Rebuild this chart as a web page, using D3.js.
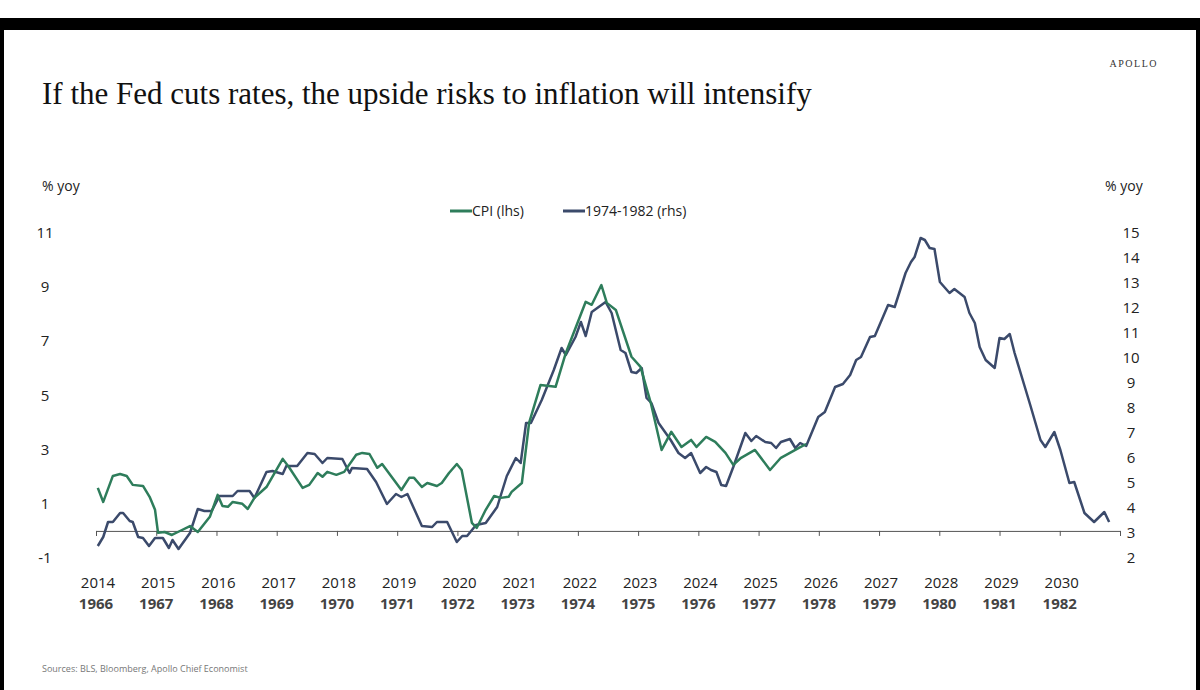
<!DOCTYPE html>
<html>
<head>
<meta charset="utf-8">
<script src="https://d3js.org/d3.v7.min.js"></script>
<style>
  body { margin: 0; background: #fff; }
  svg text { font-family: "Open Sans", "DejaVu Sans", sans-serif; }
</style>
</head>
<body>
<script>
// CPI (lhs), [year on 2014-2030 axis, % yoy]
const cpi = [
  [2014.03,1.59],[2014.12,1.07],[2014.28,2.03],[2014.40,2.10],[2014.51,2.03],[2014.61,1.70],
  [2014.78,1.66],[2014.89,1.26],[2014.98,0.78],[2015.03,-0.07],[2015.14,-0.04],[2015.26,-0.15],
  [2015.36,-0.04],[2015.56,0.18],[2015.69,-0.04],[2015.89,0.52],[2016.02,1.33],[2016.10,0.92],
  [2016.19,0.89],[2016.27,1.07],[2016.43,1.00],[2016.52,0.81],[2016.63,1.22],[2016.83,1.62],
  [2017.10,2.66],[2017.21,2.33],[2017.43,1.59],[2017.54,1.70],[2017.68,2.14],[2017.76,2.00],
  [2017.84,2.18],[2017.99,2.07],[2018.12,2.18],[2018.32,2.81],[2018.42,2.88],[2018.54,2.84],
  [2018.67,2.33],[2018.75,2.47],[2019.07,1.51],[2019.20,1.96],[2019.28,1.96],[2019.41,1.62],
  [2019.50,1.77],[2019.66,1.66],[2019.74,1.77],[2019.86,2.14],[2019.99,2.47],[2020.07,2.25],
  [2020.24,0.30],[2020.32,0.11],[2020.47,0.78],[2020.61,1.29],[2020.72,1.22],[2020.85,1.26],
  [2020.90,1.44],[2021.07,1.77],[2021.19,3.99],[2021.38,5.39],[2021.63,5.32],[2021.80,6.57],
  [2022.13,8.46],[2022.23,8.35],[2022.39,9.08],[2022.48,8.42],[2022.63,8.16],[2022.89,6.43],
  [2023.04,6.06],[2023.21,4.73],[2023.39,2.99],[2023.55,3.66],[2023.72,3.10],[2023.88,3.36],
  [2023.97,3.10],[2024.13,3.47],[2024.28,3.29],[2024.45,2.88],[2024.58,2.44],[2024.71,2.70],
  [2024.94,2.99],[2025.19,2.25],[2025.37,2.70],[2025.61,2.99],[2025.79,3.21]
];
// 1974-1982 (rhs), same axis positions
const era = [
  [2014.03,2.48],[2014.12,2.84],[2014.20,3.44],[2014.28,3.44],[2014.40,3.80],[2014.45,3.80],
  [2014.56,3.48],[2014.61,3.44],[2014.70,2.84],[2014.78,2.80],[2014.88,2.48],[2014.98,2.80],
  [2015.11,2.80],[2015.21,2.40],[2015.27,2.72],[2015.37,2.36],[2015.56,3.00],[2015.69,3.96],
  [2015.80,3.88],[2015.92,3.88],[2016.05,4.48],[2016.27,4.48],[2016.35,4.68],[2016.55,4.68],
  [2016.63,4.40],[2016.83,5.44],[2016.93,5.48],[2017.10,5.36],[2017.16,5.68],[2017.34,5.68],
  [2017.51,6.20],[2017.63,6.16],[2017.76,5.80],[2017.84,6.00],[2018.09,5.96],[2018.21,5.40],
  [2018.25,5.60],[2018.50,5.56],[2018.65,5.04],[2018.83,4.16],[2018.98,4.56],[2019.07,4.44],
  [2019.17,4.56],[2019.41,3.28],[2019.58,3.24],[2019.66,3.44],[2019.83,3.44],[2019.99,2.64],
  [2020.08,2.88],[2020.16,2.88],[2020.31,3.32],[2020.47,3.40],[2020.66,4.04],[2020.82,5.28],
  [2020.97,6.00],[2021.05,5.80],[2021.14,7.40],[2021.22,7.40],[2021.40,8.32],[2021.60,9.52],
  [2021.73,10.40],[2021.80,10.12],[2021.96,10.84],[2022.05,11.44],[2022.13,10.88],[2022.23,11.84],
  [2022.46,12.24],[2022.56,11.80],[2022.71,10.32],[2022.79,10.20],[2022.89,9.44],[2022.97,9.40],
  [2023.06,9.60],[2023.14,8.40],[2023.22,8.20],[2023.34,7.40],[2023.54,6.72],[2023.67,6.20],
  [2023.78,6.00],[2023.88,6.20],[2024.03,5.40],[2024.13,5.64],[2024.21,5.52],[2024.30,5.44],
  [2024.38,4.92],[2024.46,4.88],[2024.58,5.64],[2024.78,7.00],[2024.88,6.68],[2024.96,6.88],
  [2025.11,6.64],[2025.21,6.60],[2025.29,6.40],[2025.37,6.64],[2025.52,6.76],[2025.61,6.40],
  [2025.69,6.60],[2025.79,6.48],[2025.99,7.64],[2026.10,7.84],[2026.27,8.84],[2026.40,8.96],
  [2026.52,9.32],[2026.62,9.92],[2026.70,10.04],[2026.85,10.84],[2026.93,10.88],[2027.15,12.12],
  [2027.26,12.04],[2027.44,13.40],[2027.53,13.84],[2027.59,14.04],[2027.69,14.80],[2027.76,14.72],
  [2027.84,14.40],[2027.92,14.36],[2028.01,13.04],[2028.17,12.60],[2028.25,12.76],[2028.42,12.44],
  [2028.50,11.80],[2028.59,11.40],[2028.67,10.44],[2028.77,9.92],[2028.92,9.60],[2029.00,10.80],
  [2029.08,10.76],[2029.17,10.96],[2029.25,10.20],[2029.41,8.92],[2029.51,8.12],[2029.68,6.72],
  [2029.76,6.44],[2029.91,7.04],[2030.01,6.32],[2030.16,5.00],[2030.24,5.04],[2030.41,3.80],
  [2030.57,3.44],[2030.74,3.84],[2030.82,3.44]
];
const topYears = d3.range(2014, 2031);
const bottomYears = d3.range(1966, 1983);
const leftTicks = [-1, 1, 3, 5, 7, 9, 11];
const rightTicks = d3.range(2, 16);

const W = 1200, H = 690;
const svg = d3.select("body").append("svg").attr("width", W).attr("height", H);

// photo frame
svg.append("rect").attr("x", 0).attr("y", 0).attr("width", W).attr("height", H).attr("fill", "#000");
svg.append("rect").attr("x", 0).attr("y", 0).attr("width", W).attr("height", 18).attr("fill", "#fff");
svg.append("rect").attr("x", 4).attr("y", 30).attr("width", 1192).attr("height", H - 30).attr("fill", "#fff");

const x = d3.scaleLinear().domain([2014, 2031]).range([96, 1120]);
const yL = d3.scaleLinear().domain([-1, 11]).range([558, 233]);
const yR = d3.scaleLinear().domain([2, 15]).range([558, 233]);

svg.append("text").attr("x", 42).attr("y", 104)
  .style("font-family", "'Liberation Serif', 'DejaVu Serif', serif").style("font-size", "31px")
  .attr("fill", "#111").text("If the Fed cuts rates, the upside risks to inflation will intensify");
svg.append("text").attr("x", 1158).attr("y", 67).attr("text-anchor", "end")
  .style("font-family", "'Liberation Serif', serif").style("font-size", "10px")
  .style("letter-spacing", "1.5px").attr("fill", "#333").text("APOLLO");

svg.append("text").attr("x", 42).attr("y", 191).style("font-size", "14px").attr("fill", "#222").text("% yoy");
svg.append("text").attr("x", 1105).attr("y", 191).style("font-size", "14px").attr("fill", "#222").text("% yoy");

// legend
const leg = [["CPI (lhs)", "#2e7d5b", 450], ["1974-1982 (rhs)", "#3b4a6b", 563]];
leg.forEach(([t, c, lx]) => {
  svg.append("line").attr("x1", lx).attr("x2", lx + 22).attr("y1", 211).attr("y2", 211)
    .attr("stroke", c).attr("stroke-width", 3);
  svg.append("text").attr("x", lx + 22).attr("y", 216).style("font-size", "14px").attr("fill", "#222").text(t);
});

// y tick labels
svg.selectAll(".lt").data(leftTicks).join("text")
  .attr("x", 45).attr("y", d => yL(d) + 5).attr("text-anchor", "middle")
  .style("font-size", "15px").attr("fill", "#222").text(d => d);
svg.selectAll(".rt").data(rightTicks).join("text")
  .attr("x", 1131).attr("y", d => yR(d) + 5).attr("text-anchor", "middle")
  .style("font-size", "15px").attr("fill", "#222").text(d => d);

// x axis at zero
svg.append("g").attr("transform", `translate(0,${yL(0)})`)
  .call(d3.axisBottom(x).tickValues(d3.range(2014, 2032)).tickSize(5).tickFormat(""))
  .call(g => g.selectAll("path,line").attr("stroke", "#555"));

svg.selectAll(".xt").data(topYears).join("text")
  .attr("x", d => x(d) + 2).attr("y", 588).attr("text-anchor", "middle")
  .style("font-size", "15px").attr("fill", "#222").text(d => d);
svg.selectAll(".xb").data(bottomYears).join("text")
  .attr("x", (d, i) => x(topYears[i])).attr("y", 609).attr("text-anchor", "middle")
  .style("font-size", "15px").style("font-weight", "bold").attr("fill", "#444").text(d => d);

svg.append("path").datum(era).attr("fill", "none").attr("stroke", "#3b4a6b").attr("stroke-width", 2.5)
  .attr("stroke-linejoin", "round")
  .attr("d", d3.line().x(d => x(d[0])).y(d => yR(d[1])));
svg.append("path").datum(cpi).attr("fill", "none").attr("stroke", "#2e7d5b").attr("stroke-width", 2.5)
  .attr("stroke-linejoin", "round")
  .attr("d", d3.line().x(d => x(d[0])).y(d => yL(d[1])));

svg.append("text").attr("x", 42).attr("y", 672).style("font-size", "9px").attr("fill", "#777")
  .text("Sources: BLS, Bloomberg, Apollo Chief Economist");
</script>
</body>
</html>
